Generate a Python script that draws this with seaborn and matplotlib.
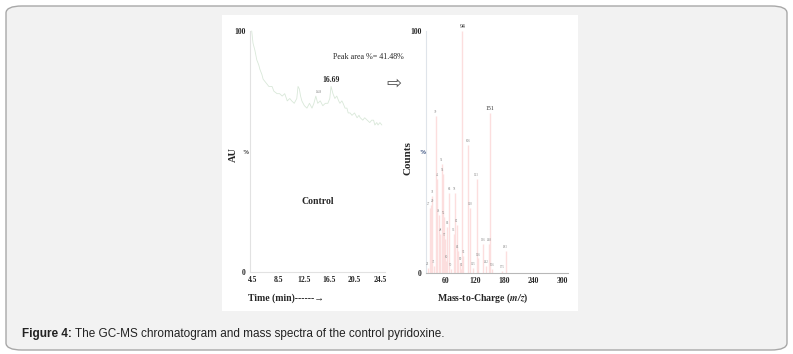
import numpy as np
import pandas as pd
import seaborn as sns
import matplotlib.pyplot as plt
from matplotlib.patches import FancyBboxPatch, Rectangle

# chromatogram (time in min, relative abundance %)
time_min = [4.3, 4.5, 4.8, 5.1, 5.4, 5.6, 5.9, 6.1, 6.4, 6.7,
            7.0, 7.5, 7.8, 8.3, 8.7, 9.1, 9.5, 9.9, 10.3, 10.6,
            11.0, 11.4, 11.6, 11.8, 12.0, 12.2, 12.6, 13.0, 13.4, 13.8,
            14.1, 14.4, 14.7, 15.1, 15.5, 15.9, 16.3, 16.6, 16.8, 17.1,
            17.4, 17.7, 18.0, 18.2, 18.5, 18.7, 19.0, 19.3, 19.5, 19.8,
            20.1, 20.5, 20.9, 21.2, 21.4, 21.8, 22.1, 22.5, 22.9, 23.2,
            23.5, 23.7, 24.0, 24.2, 24.5, 24.8]
au_pct = [100, 95, 92, 88, 86, 84, 82, 80, 79, 78,
          77, 77, 75, 74, 74, 73, 74, 71, 72, 71,
          70, 72, 77, 76, 73, 71, 69, 68, 70, 68,
          70, 73, 70, 71, 69, 70, 70, 72, 77, 74,
          72, 73, 71, 70, 71, 70, 68, 68, 66, 66,
          65, 66, 64, 65, 64, 63, 64, 63, 62, 63,
          63, 61, 62, 61, 62, 61]
time_ticks = [4.5, 8.5, 12.5, 16.5, 20.5, 24.5]

# mass spectrum (m/z, relative counts %)
mz = [94, 151, 39, 106, 51, 42, 53, 123, 31, 66, 78, 27, 29, 110, 45, 55,
      63, 82, 48, 76, 57, 84, 136, 148, 183, 96, 60, 89, 126, 35, 22, 70,
      91, 115, 142, 156, 175]
counts_pct = [100, 66, 65, 53, 45, 39, 41, 39, 32, 33, 33, 27, 28, 27, 24, 23,
              19, 20, 16, 16, 14, 9, 12, 12, 9, 7, 5, 4, 6, 3, 2, 1.5,
              1.5, 2, 3, 1.5, 1]
mz_ticks = [60, 120, 180, 240, 300]

W, H = 793, 354


def fx(px):
    return px / W


def fy(py):
    return 1 - py / H


sns.set_theme(style="white")
plt.rcParams['font.family'] = ['Liberation Serif', 'DejaVu Sans']
plt.rcParams['mathtext.fontset'] = 'stix'

fig = plt.figure(figsize=(W / 100, H / 100), dpi=100)
fig.patch.set_facecolor("white")
fig.patches.append(FancyBboxPatch((fx(6), fy(350)), fx(781), 344 / H,
                                  boxstyle="round,pad=0,rounding_size=0.02",
                                  transform=fig.transFigure, facecolor="#f2f2f2",
                                  edgecolor="#a8a8a8", linewidth=1, zorder=-2))
fig.patches.append(Rectangle((fx(222), fy(311)), fx(356), 296 / H,
                             transform=fig.transFigure, facecolor="white",
                             edgecolor="none", zorder=-1))

# ---- chromatogram
ax1 = fig.add_axes([fx(250), fy(272), fx(135), 241 / H])
ax1.set_facecolor("none")
chrom = pd.DataFrame({"time": time_min, "au": au_pct})
sns.lineplot(data=chrom, x="time", y="au", ax=ax1, color="#d9e8d9",
             linewidth=0.6, clip_on=False)
ax1.set_xlim(4.03, 25.3)
ax1.set_ylim(0, 100)
ax1.set_xticks(time_ticks)
ax1.set_xticklabels([str(t) for t in time_ticks], fontsize=5.5, fontweight="bold")
ax1.set_yticks([0, 100])
ax1.set_yticklabels(["0", "100"], fontsize=5.5, fontweight="bold")
ax1.tick_params(length=0, pad=3)
ax1.set_xlabel("")
ax1.set_ylabel("")
for s in ["top", "right"]:
    ax1.spines[s].set_visible(False)
for s in ["left", "bottom"]:
    ax1.spines[s].set_color("#e2e2e2")
    ax1.spines[s].set_linewidth(0.8)
ax1.text(14.8, 74, "14.8", fontsize=2.5, color="#777", ha="center", va="bottom")
ax1.text(16.8, 78, "16.69", fontsize=5.5, fontweight="bold", ha="center", va="bottom")

fig.text(fx(368), fy(57), "Peak area %= 41.48%", fontsize=5.8, ha="center", va="center")
fig.text(fx(394), fy(84), "\u21e8", fontsize=13, color="#555", ha="center", va="center",
         family="DejaVu Sans")
fig.text(fx(246), fy(152), "%", fontsize=4.5, fontweight="bold", ha="center", va="center")
fig.text(fx(233), fy(155), "AU", fontsize=7.5, fontweight="bold", rotation=90,
         ha="center", va="center")
fig.text(fx(318), fy(202), "Control", fontsize=7, fontweight="bold", ha="center", va="center")
fig.text(fx(248), fy(298), "Time (min)------\u2192", fontsize=7, fontweight="bold",
         ha="left", va="center")

# ---- mass spectrum
ax2 = fig.add_axes([fx(426), fy(273), fx(142), 242 / H])
ax2.set_facecolor("none")
ax2.vlines(mz, 0, counts_pct, color="#fcdede", linewidth=1)
align = {27: "right", 29: "left"}
for m, c in zip(mz, counts_pct):
    big = m in (94, 151)
    ax2.text(m, c + 0.8, str(m), fontsize=4.2 if big else 2.3,
             color="#333" if big else "#888", ha=align.get(m, "center"), va="bottom")
ax2.set_xlim(18.6, 312)
ax2.set_ylim(0, 100)
ax2.set_xticks(mz_ticks)
ax2.set_xticklabels([str(t) for t in mz_ticks], fontsize=5.5, fontweight="bold")
ax2.set_yticks([0, 100])
ax2.set_yticklabels(["0", "100"], fontsize=5.5, fontweight="bold")
ax2.tick_params(length=0, pad=3)
for s in ["top", "right"]:
    ax2.spines[s].set_visible(False)
ax2.spines["left"].set_color("#dfe4ea")
ax2.spines["bottom"].set_color("#b8b8b8")
ax2.spines["left"].set_linewidth(0.8)
ax2.spines["bottom"].set_linewidth(0.8)

fig.text(fx(422), fy(153), "%", fontsize=4.5, fontweight="bold", color="#1f3a6e",
         ha="center", va="center")
fig.text(fx(408), fy(158), "Counts", fontsize=8, fontweight="bold", rotation=90,
         ha="center", va="center")
fig.text(fx(483), fy(298), "Mass-to-Charge ($\\mathbfit{m/z}$)", fontsize=7,
         fontweight="bold", ha="center", va="center")

# caption
cap = fig.text(fx(22), fy(337), "Figure 4:", fontsize=8.5, fontweight="bold",
               family="Liberation Sans", ha="left", va="baseline", color="#222")
plt.annotate(" The GC-MS chromatogram and mass spectra of the control pyridoxine.",
             xy=(1, 0), xycoords=cap, fontsize=8.5, family="Liberation Sans",
             ha="left", va="bottom", color="#222", annotation_clip=False)

fig.savefig("out.png", dpi=100)
